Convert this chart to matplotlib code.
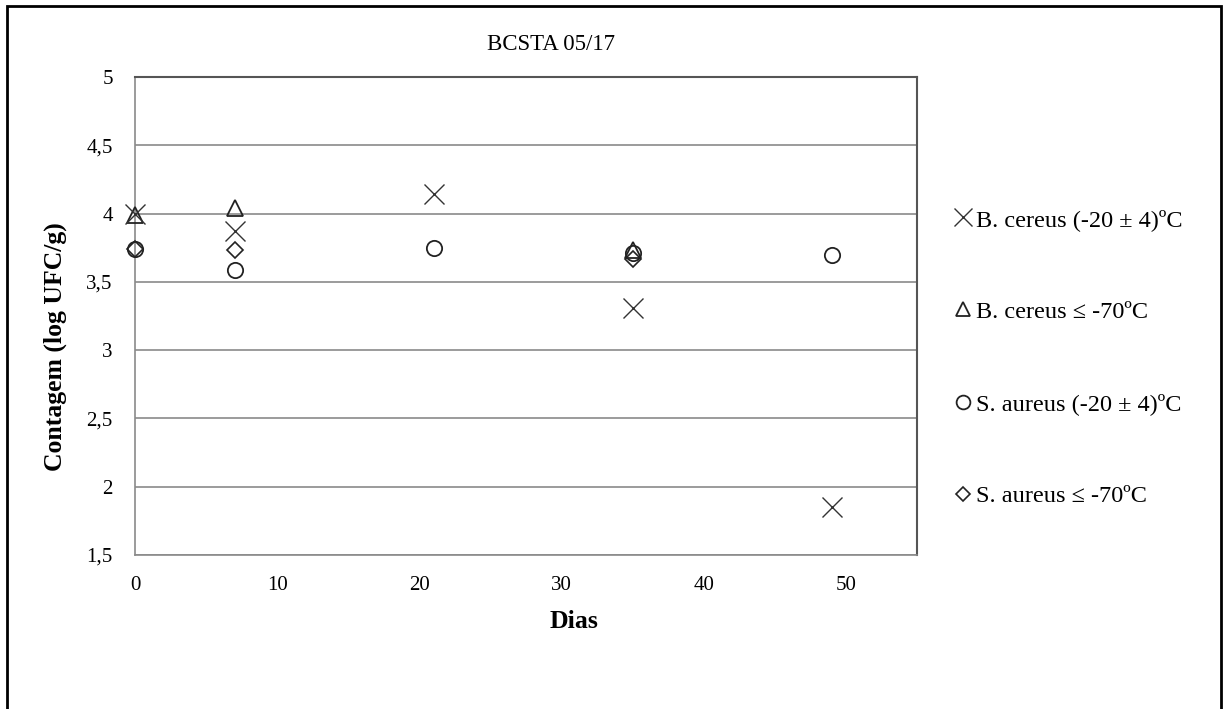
import numpy as np
import matplotlib.pyplot as plt
from matplotlib.patches import Rectangle

plt.rcParams['font.family'] = ['Liberation Serif', 'DejaVu Serif']

# dados
dias_bc20 = [0, 7, 21, 35, 49]
bc20 = [4.00, 3.87, 4.14, 3.31, 1.85]
dias_bc70 = [0, 7, 35]
bc70 = [3.99, 4.04, 3.73]
dias_sa20 = [0, 7, 21, 35, 49]
sa20 = [3.74, 3.59, 3.75, 3.71, 3.70]
dias_sa70 = [0, 7, 35]
sa70 = [3.74, 3.73, 3.67]

nomes = ['B. cereus (-20 ± 4)ºC', 'B. cereus ≤ -70ºC',
         'S. aureus (-20 ± 4)ºC', 'S. aureus ≤ -70ºC']
yticks = [1.5, 2, 2.5, 3, 3.5, 4, 4.5, 5]
ylabels = ['1,5', '2', '2,5', '3', '3,5', '4', '4,5', '5']
xticks = [0, 10, 20, 30, 40, 50]

fig = plt.figure(figsize=(12.23, 7.09), dpi=100)
ax = fig.add_axes([0.1104, 0.2172, 0.6394, 0.6742])

ax.plot(dias_bc20, bc20, 'x', ms=14, mew=1.0, color='#333333', label=nomes[0], zorder=4, clip_on=False)
ax.plot(dias_bc70, bc70, '^', ms=11, mew=1.3, mfc='none', mec='#222222', label=nomes[1], zorder=3, clip_on=False)
ax.plot(dias_sa20, sa20, 'o', ms=11, mew=1.3, mfc='none', mec='#222222', label=nomes[2], zorder=3, clip_on=False)
ax.plot(dias_sa70, sa70, 'D', ms=8, mew=1.2, mfc='none', mec='#222222', label=nomes[3], zorder=3, clip_on=False)

ax.set_xlim(0, 55)
ax.set_ylim(1.5, 5)
ax.set_yticks(yticks)
ax.set_yticklabels(ylabels)
ax.set_xticks(xticks)
ax.tick_params(length=0, labelsize=15, pad=16)
ax.tick_params(axis='x', pad=15)
ax.grid(axis='y', color='#8a8a8a', lw=1.2)
ax.set_axisbelow(True)
for s in ['left', 'bottom']:
    ax.spines[s].set_color('#8a8a8a')
    ax.spines[s].set_linewidth(1.2)
for s in ['top', 'right']:
    ax.spines[s].set_color('#555555')
    ax.spines[s].set_linewidth(1.5)
ax.spines['left'].set_zorder(0)

ax.set_ylabel('Contagem (log UFC/g)', fontsize=18.5, fontweight='bold')
ax.yaxis.set_label_coords((55 - 135) / 782, (555 - 347) / 478)
ax.set_xlabel('Dias', fontsize=18.5, fontweight='bold')
ax.xaxis.set_label_coords((574 - 135) / 782, (555 - 621) / 478)
ax.xaxis.label.set_va('center')
ax.yaxis.label.set_va('center')

fig.text(551 / 1223, 1 - 44 / 709, 'BCSTA 05/17', fontsize=16.5, ha='center', va='center')

leg = ax.legend(loc='center left', bbox_to_anchor=(944 / 1223, 1 - 358 / 709),
                bbox_transform=fig.transFigure, frameon=False, fontsize=17.5,
                markerscale=0.9, handlelength=0.6, handletextpad=0.2,
                labelspacing=2.88, borderpad=0)

# moldura externa
fig.patches.append(Rectangle((7 / 1223, -0.2), 1214 / 1223, 1.2 - 6 / 709,
                             transform=fig.transFigure, fill=False,
                             ec='black', lw=2, clip_on=False))

plt.savefig('out.png', dpi=100)
